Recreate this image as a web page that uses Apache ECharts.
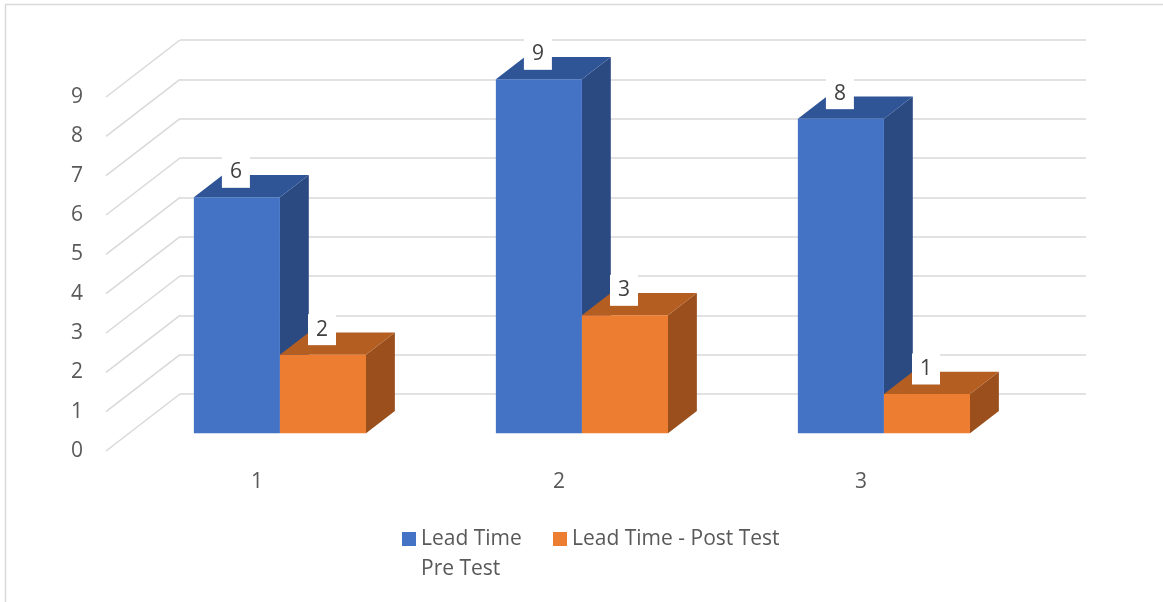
<!DOCTYPE html>
<html>
<head>
<meta charset="utf-8">
<script src="https://cdn.jsdelivr.net/npm/echarts@6/dist/echarts.min.js"></script>
<style>
  html, body { margin: 0; padding: 0; background: #ffffff; }
  #chart { width: 1163px; height: 602px; }
</style>
</head>
<body>
<div id="chart"></div>
<script>
// Chart data
const categories = ['1', '2', '3'];
const preTest = [6, 9, 8];
const postTest = [2, 3, 1];
const yTicks = [0, 1, 2, 3, 4, 5, 6, 7, 8, 9];
const seriesNames = ['Lead Time Pre Test', 'Lead Time - Post Test'];

// Oblique projection: vector from the back wall to the front edge of the floor
const DEPTH = [-74, 57];
const BAR_FRONT = 0.69;   // depth fraction of the bars' front faces
const BAR_BACK = 0.30;    // depth fraction of the bars' back faces
const BAR_SHARE = 0.285;  // bar width as a share of the category band

const FONT_FAMILY = '"Open Sans", "Liberation Sans", sans-serif';
const FONT_SIZE = 21;
const FONT = FONT_SIZE + 'px ' + FONT_FAMILY;
const TEXT = '#595959';

const palettes = [
  { front: '#4472C4', top: '#2F5597', side: '#2B4A82' },
  { front: '#ED7D31', top: '#B45E22', side: '#9A4F1D' }
];

function barRenderer(seriesIdx) {
  const pal = palettes[seriesIdx];
  return function (params, api) {
    const ci = api.value(0);
    const v = api.value(1);
    const base = api.coord([ci, 0]);
    const top = api.coord([ci, v]);
    const band = api.size([1, 0])[0];
    const bw = band * BAR_SHARE;
    const left = base[0] - bw + seriesIdx * bw;
    const fx = DEPTH[0] * BAR_FRONT, fy = DEPTH[1] * BAR_FRONT;
    const ddx = DEPTH[0] * (BAR_BACK - BAR_FRONT);
    const ddy = DEPTH[1] * (BAR_BACK - BAR_FRONT);
    const x0 = left + fx, x1 = x0 + bw;
    const yT = top[1] + fy, yB = base[1] + fy;
    return {
      type: 'group',
      children: [
        {
          type: 'polygon',
          shape: { points: [[x1, yT], [x1 + ddx, yT + ddy], [x1 + ddx, yB + ddy], [x1, yB]] },
          style: { fill: pal.side }
        },
        {
          type: 'polygon',
          shape: { points: [[x0, yT], [x1, yT], [x1 + ddx, yT + ddy], [x0 + ddx, yT + ddy]] },
          style: { fill: pal.top }
        },
        {
          type: 'rect',
          shape: { x: x0, y: yT, width: bw, height: yB - yT },
          style: { fill: pal.front }
        },
        {
          type: 'text',
          x: x0 + bw / 2 - 1,
          y: yT - 25,
          style: {
            text: String(v),
            align: 'center',
            verticalAlign: 'middle',
            font: FONT,
            fill: '#404040',
            backgroundColor: '#ffffff',
            padding: [5, 8, 5, 8]
          },
          z2: 10
        }
      ]
    };
  };
}

// Left wall lines and value labels on the front edge
function wallRenderer(params, api) {
  const v = api.value(1);
  const p = api.coord([0, v]);
  const gx = params.coordSys.x;
  return {
    type: 'group',
    children: [
      {
        type: 'line',
        shape: { x1: gx, y1: p[1], x2: gx + DEPTH[0], y2: p[1] + DEPTH[1] },
        style: { stroke: '#d9d9d9', lineWidth: 1.5 }
      },
      {
        type: 'text',
        x: gx + DEPTH[0] - 23,
        y: p[1] + DEPTH[1],
        style: {
          text: String(v),
          align: 'right',
          verticalAlign: 'middle',
          font: FONT,
          fill: TEXT
        }
      }
    ]
  };
}

// Category labels under the front edge of the floor
function categoryRenderer(params, api) {
  const ci = api.value(0);
  const p = api.coord([ci, 0]);
  return {
    type: 'text',
    x: p[0] + DEPTH[0],
    y: p[1] + DEPTH[1] + 31,
    style: {
      text: categories[ci],
      align: 'center',
      verticalAlign: 'middle',
      font: FONT,
      fill: TEXT
    }
  };
}

const chart = echarts.init(document.getElementById('chart'), null, { renderer: 'canvas' });

const legendText = { fontFamily: FONT_FAMILY, fontSize: FONT_SIZE, color: TEXT, lineHeight: 30 };

chart.setOption({
  backgroundColor: '#ffffff',
  animation: false,
  graphic: [{
    type: 'rect',
    shape: { x: 5.5, y: 4.5, width: 1200, height: 700 },
    style: { fill: 'none', stroke: '#d9d9d9', lineWidth: 1.5 },
    silent: true
  }],
  grid: { left: 180, right: 77, top: 40, bottom: 208 },
  xAxis: {
    type: 'category',
    data: categories,
    axisLine: { show: false },
    axisTick: { show: false },
    axisLabel: { show: false },
    splitLine: { show: false }
  },
  yAxis: {
    type: 'value',
    min: 0,
    max: 9,
    interval: 1,
    axisLine: { show: false },
    axisTick: { show: false },
    axisLabel: { show: false },
    splitLine: { lineStyle: { color: '#d9d9d9', width: 1.5 } }
  },
  legend: [
    {
      data: [seriesNames[0]],
      left: 402,
      top: 494,
      padding: 0,
      itemWidth: 14,
      itemHeight: 14,
      icon: 'rect',
      // wrap the name onto two lines, with the first line level with the swatch
      formatter: n => '\n' + n.replace(' Pre Test', '\nPre Test'),
      textStyle: legendText
    },
    {
      data: [seriesNames[1]],
      left: 553,
      top: 524,
      padding: 0,
      itemWidth: 14,
      itemHeight: 14,
      icon: 'rect',
      textStyle: legendText
    }
  ],
  series: [
    {
      type: 'custom',
      name: 'wall',
      renderItem: wallRenderer,
      data: yTicks.map(v => [0, v]),
      silent: true,
      z: 1
    },
    {
      type: 'custom',
      name: 'categories',
      renderItem: categoryRenderer,
      data: categories.map((c, i) => [i, 0]),
      silent: true,
      z: 1
    },
    {
      type: 'custom',
      name: seriesNames[0],
      itemStyle: { color: palettes[0].front },
      renderItem: barRenderer(0),
      data: preTest.map((v, i) => [i, v]),
      z: 2
    },
    {
      type: 'custom',
      name: seriesNames[1],
      itemStyle: { color: palettes[1].front },
      renderItem: barRenderer(1),
      data: postTest.map((v, i) => [i, v]),
      z: 3
    }
  ]
});
</script>
</body>
</html>
